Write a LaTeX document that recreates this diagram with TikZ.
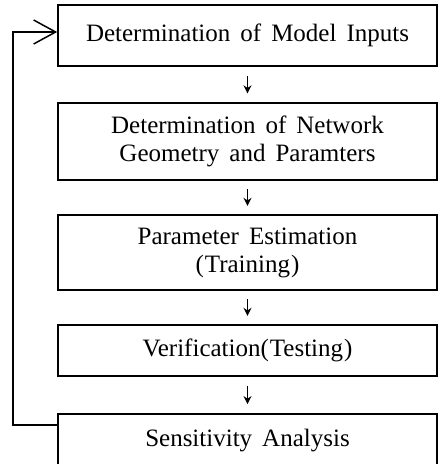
\documentclass[tikz,border=0pt]{standalone}
\usepackage{fontspec}
\setmainfont{Liberation Serif}[WordSpace=1.6]
\usetikzlibrary{arrows.meta,calc}
\begin{document}
\begin{tikzpicture}[x=1pt,y=-1pt,
  box/.style={draw, line width=1.6pt, minimum width=379pt, align=center,
    inner sep=0pt, font=\fontsize{25}{28}\selectfont},
  flowarrow/.style={line width=1.3pt, -{Stealth[length=8pt,width=8pt]}},
  feedback/.style={line width=1.5pt, -{Straight Barb[length=22pt,width=24pt]}}]
  \useasboundingbox (0,0) rectangle (443,464);
  \clip (0,0) rectangle (443,464);

  % process steps
  \node[box, minimum height=61pt] (b1) at (247.5,35.5) {Determination of Model Inputs};
  \node[box, minimum height=77pt] (b2) at (247.5,141.5) {Determination of Network\\Geometry and Paramters};
  \node[box, minimum height=75pt] (b3) at (247.5,252.5) {Parameter Estimation\\(\kern1pt Training\kern1pt)};
  \node[box, minimum height=51pt] (b4) at (247.5,350.5) {Verification(\kern1pt Testing\kern1pt)};
  \node[box, minimum height=54pt] (b5) at (247.5,441) {Sensitivity Analysis};

  % arrows between consecutive steps
  \foreach \a/\b in {b1/b2, b2/b3, b3/b4, b4/b5}
    \draw[flowarrow] ($(\a.south)!0.25!(\b.north)$) -- ($(\a.south)!0.75!(\b.north)$);

  % feedback loop from the last step back to the first
  \coordinate (b5out) at ([yshift=16pt]b5.west);
  \coordinate (b1in) at ([yshift=3.5pt]b1.west);
  \coordinate (rail) at (13,0);
  \draw[feedback] (b5out) -- (rail |- b5out) -- (rail |- b1in) -- (b1in);
\end{tikzpicture}
\end{document}
